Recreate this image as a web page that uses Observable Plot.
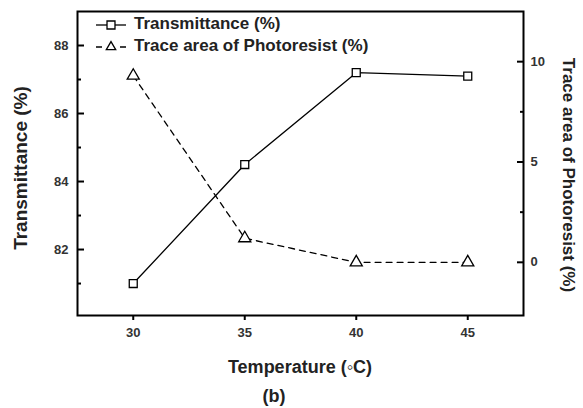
<!DOCTYPE html>
<html>
<head>
<meta charset="utf-8">
<script src="https://cdn.jsdelivr.net/npm/d3@7"></script>
<script src="https://cdn.jsdelivr.net/npm/@observablehq/plot@0.6"></script>
<style>
  html, body { margin: 0; padding: 0; background: #fff; }
  #chart svg { font-family: "Liberation Sans", Arial, sans-serif; }
  #chart svg g[aria-label$="tick label"] text { font-weight: bold; fill: #333; }
</style>
</head>
<body>
<div id="chart"></div>
<script>
// ---- data ----
const temperatures = [30, 35, 40, 45];
const transmittance = [81.0, 84.5, 87.2, 87.1];
const traceArea = [9.3, 1.2, 0.0, 0.0];

// ---- ticks ----
const xTicks = [30, 35, 40, 45];
const leftTicks = [82, 84, 86, 88];
const leftMinorTicks = [81, 83, 85, 87];
const rightTicks = [0, 5, 10];
const rightMinorTicks = [2.5, 7.5];

// ---- labels ----
const xLabel = "Temperature (\u25E6C)";
const yLeftLabel = "Transmittance (%)";
const yRightLabel = "Trace area of Photoresist (%)";
const panelLabel = "(b)";
const seriesNames = ["Transmittance (%)", "Trace area of Photoresist (%)"];

// ---- layout ----
const width = 583, height = 408;
const mL = 77, mR = 60, mT = 11, mB = 93;
const W = width - mL - mR, H = height - mT - mB;

const leftDomain = [80.06, 89];
const rightDomain = [-2.65, 12.5];
const toLeft = d3.scaleLinear().domain(rightDomain).range(leftDomain);

const transData = temperatures.map((t, i) => ({x: t, y: transmittance[i]}));
const traceData = temperatures.map((t, i) => ({x: t, y: toLeft(traceArea[i])}));

const noText = () => "";
const tickStyle = {stroke: "black", strokeWidth: 2, label: null};

const svg = Plot.plot({
  width, height,
  marginLeft: mL, marginRight: mR, marginTop: mT, marginBottom: mB,
  style: {fontFamily: "'Liberation Sans', Arial, sans-serif", fontSize: "13px", background: "white"},
  x: {domain: [27.5, 47.5], label: null},
  y: {domain: leftDomain, label: null},
  marks: [
    // tick labels
    Plot.axisY(leftTicks, {anchor: "left", tickSize: 0, tickPadding: 9, label: null}),
    Plot.axisY(rightTicks.map(toLeft), {anchor: "right", tickSize: 0, tickPadding: 7, label: null,
      tickFormat: d => String(Math.round(toLeft.invert(d)))}),
    Plot.axisX(xTicks, {anchor: "bottom", tickSize: 0, tickPadding: 12, label: null}),
    // tick marks (inward on the y axes, outward on x)
    Plot.axisY(leftTicks, {anchor: "left", tickSize: 7, dx: 7, tickFormat: noText, ...tickStyle}),
    Plot.axisY(leftMinorTicks, {anchor: "left", tickSize: 4, dx: 4, tickFormat: noText, ...tickStyle}),
    Plot.axisY(rightTicks.map(toLeft), {anchor: "right", tickSize: 7, dx: -7, tickFormat: noText, ...tickStyle}),
    Plot.axisY(rightMinorTicks.map(toLeft), {anchor: "right", tickSize: 4, dx: -4, tickFormat: noText, ...tickStyle}),
    Plot.axisX(xTicks, {anchor: "bottom", tickSize: 5, tickFormat: noText, ...tickStyle}),
    // data
    Plot.line(transData, {x: "x", y: "y", stroke: "black", strokeWidth: 1.3}),
    Plot.line(traceData, {x: "x", y: "y", stroke: "black", strokeWidth: 1.3, strokeDasharray: "6,5"}),
    Plot.dot(transData, {x: "x", y: "y", symbol: "square", r: 4.5, fill: "white", stroke: "black", strokeWidth: 1.3}),
    Plot.dot(traceData, {x: "x", y: "y", symbol: "triangle", r: 4.5, fill: "white", stroke: "black", strokeWidth: 1.3}),
    Plot.frame({stroke: "black", strokeWidth: 2})
  ]
});

document.getElementById("chart").appendChild(svg);

// ---- titles and legend ----
const s = d3.select(svg);
const font = "'Liberation Sans', Arial, sans-serif";

s.append("text")
  .attr("transform", `translate(22,${mT + H / 2 + 5}) rotate(-90)`)
  .attr("text-anchor", "middle").attr("dominant-baseline", "middle")
  .style("font", `bold 19px ${font}`).attr("fill", "#222")
  .text(yLeftLabel);

s.append("text")
  .attr("transform", `translate(567,${mT + H / 2 + 12}) rotate(90)`)
  .attr("text-anchor", "middle").attr("dominant-baseline", "middle")
  .style("font", `bold 17px ${font}`).attr("fill", "#222")
  .text(yRightLabel);

s.append("text")
  .attr("x", 300).attr("y", 368)
  .attr("text-anchor", "middle").attr("dominant-baseline", "middle")
  .style("font", `bold 18px ${font}`).attr("fill", "#222")
  .text(xLabel);

s.append("text")
  .attr("x", 274).attr("y", 397)
  .attr("text-anchor", "middle").attr("dominant-baseline", "middle")
  .style("font", `bold 18px ${font}`).attr("fill", "#222")
  .text(panelLabel);

const legend = s.append("g");
const legendRows = [
  {name: seriesNames[0], y: 25, dash: null, sym: d3.symbolSquare, size: 4.5 * 4.5 * Math.PI},
  {name: seriesNames[1], y: 47, dash: "6,18", sym: d3.symbolTriangle2, size: 4.5 * 4.5 * Math.PI}
];
legendRows.forEach(r => {
  legend.append("line")
    .attr("x1", 96).attr("x2", 126).attr("y1", r.y).attr("y2", r.y)
    .attr("stroke", "black").attr("stroke-width", 1.3)
    .attr("stroke-dasharray", r.dash);
  legend.append("path")
    .attr("d", d3.symbol(r.sym, r.size)())
    .attr("transform", `translate(111,${r.y})`)
    .attr("fill", "white").attr("stroke", "black").attr("stroke-width", 1.3);
  legend.append("text")
    .attr("x", 134).attr("y", r.y)
    .attr("text-anchor", "start")
    .attr("dominant-baseline", "middle")
    .style("font", `bold 17px ${font}`).attr("fill", "#222")
    .text(r.name);
});
</script>
</body>
</html>
